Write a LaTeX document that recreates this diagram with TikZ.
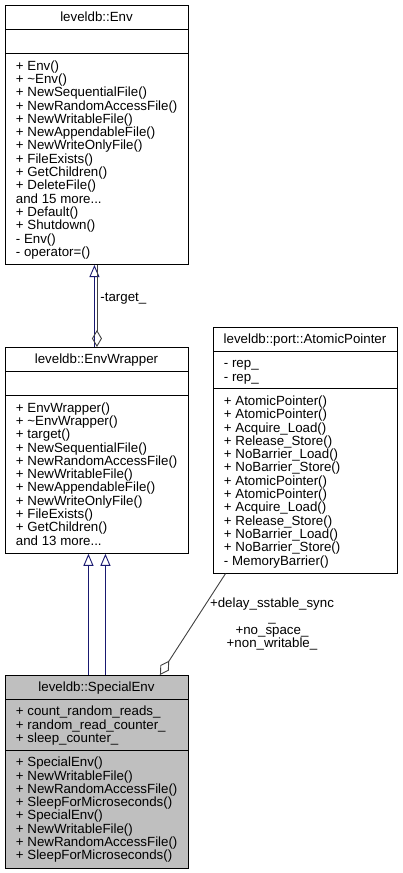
\documentclass[tikz,border=0pt]{standalone}
\usepackage{fontspec}
\setmainfont{Liberation Sans}
\usetikzlibrary{arrows.meta}
\definecolor{edgeblue}{HTML}{191970}
\definecolor{edgegray}{HTML}{404040}
\definecolor{boxgray}{HTML}{BFBFBF}
\begin{document}
\begin{tikzpicture}[x=1pt,y=-1pt,line width=0.9pt,
  font=\fontsize{13.3}{13.3}\selectfont,
  cls/.style={draw,anchor=north west,inner sep=0,minimum width=183pt},
  ttl/.style={anchor=base,inner sep=0},
  mem/.style={anchor=base west,inner sep=0},
  inherit/.style={edgeblue,-{Triangle[open,length=12pt,width=10pt]}},
  aggr/.style={edgegray,{Diamond[open,length=17pt,width=10pt]}-}]
\useasboundingbox (0,0) rectangle (402,873);

\node[cls,minimum height=259.1pt] (E) at (5,5) {};
\node[ttl] (E-t) at (96.5,21.5) {leveldb::Env};
\draw (5,29.3) -- (188,29.3) (5,53.6) -- (188,53.6);
\foreach \t [count=\k] in {+ Env(),+ \textasciitilde Env(),+ NewSequentialFile(),+ NewRandomAccessFile(),+ NewWritableFile(),+ NewAppendableFile(),+ NewWriteOnlyFile(),+ FileExists(),+ GetChildren(),+ DeleteFile(),and 15 more{.}..,+ Default(),+ Shutdown(),- Env(),- operator=()}
  \node[mem] (E-m\k) at (15.5,{70.1+13.3*(\k-1)}) {\t};

\node[cls,minimum height=205.9pt] (EW) at (5,347) {};
\node[ttl] (EW-t) at (96.5,363.5) {leveldb::EnvWrapper};
\draw (5,371.3) -- (188,371.3) (5,395.6) -- (188,395.6);
\foreach \t [count=\k] in {+ EnvWrapper(),+ \textasciitilde EnvWrapper(),+ target(),+ NewSequentialFile(),+ NewRandomAccessFile(),+ NewWritableFile(),+ NewAppendableFile(),+ NewWriteOnlyFile(),+ FileExists(),+ GetChildren(),and 13 more{.}..}
  \node[mem] (EW-m\k) at (15.5,{412.1+13.3*(\k-1)}) {\t};

\node[cls,minimum width=184pt,minimum height=245.8pt] (AP) at (213,327) {};
\node[ttl] (AP-t) at (305,343.5) {leveldb::port::AtomicPointer};
\draw (213,351.3) -- (397,351.3) (213,388.9) -- (397,388.9);
\foreach \t [count=\k] in {- rep\_,- rep\_}
  \node[mem] (AP-a\k) at (223.5,{367.8+13.3*(\k-1)}) {\t};
\foreach \t [count=\k] in {+ AtomicPointer(),+ AtomicPointer(),+ Acquire\_Load(),+ Release\_Store(),+ NoBarrier\_Load(),+ NoBarrier\_Store(),+ AtomicPointer(),+ AtomicPointer(),+ Acquire\_Load(),+ Release\_Store(),+ NoBarrier\_Load(),+ NoBarrier\_Store(),- MemoryBarrier()}
  \node[mem] (AP-m\k) at (223.5,{405.4+13.3*(\k-1)}) {\t};

\node[cls,fill=boxgray,minimum height=192.6pt] (SE) at (5,675) {};
\node[ttl] (SE-t) at (96.5,691.5) {leveldb::SpecialEnv};
\draw (5,699.3) -- (188,699.3) (5,750.2) -- (188,750.2);
\foreach \t [count=\k] in {+ count\_random\_reads\_,+ random\_read\_counter\_,+ sleep\_counter\_}
  \node[mem] (SE-a\k) at (15.5,{715.8+13.3*(\k-1)}) {\t};
\foreach \t [count=\k] in {+ SpecialEnv(),+ NewWritableFile(),+ NewRandomAccessFile(),+ SleepForMicroseconds(),+ SpecialEnv(),+ NewWritableFile(),+ NewRandomAccessFile(),+ SleepForMicroseconds()}
  \node[mem] (SE-m\k) at (15.5,{766.7+13.3*(\k-1)}) {\t};

\draw[inherit] ([xshift=-2.5pt]EW.north) -- ([xshift=-2.5pt]E.south);
\draw[aggr] (EW.north) -- (E.south);
\node[mem] (T) at (100,301) {-target\_};
\draw[inherit] ([xshift=-8.5pt]SE.north) -- ([xshift=-8.5pt]EW.south);
\draw[inherit] ([xshift=8.5pt]SE.north) -- ([xshift=8.5pt]EW.south);
\draw[aggr] ([xshift=63pt]SE.north) -- ([xshift=-80pt]AP.south);
\node[align=center,inner sep=0] (L) at (272,624.3) {+delay\_sstable\_sync\\\_\\+no\_space\_\\+non\_writable\_};
\end{tikzpicture}
\end{document}
